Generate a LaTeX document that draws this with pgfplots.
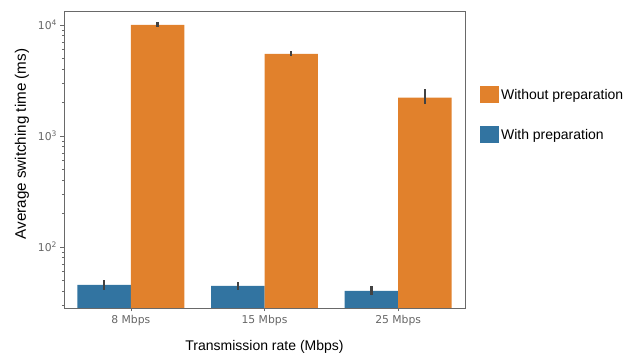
\documentclass[border=0pt]{standalone}
\usepackage{fontspec}
\setmainfont{Liberation Sans}
\newfontfamily\tickfont{DejaVu Sans}
\usepackage{pgfplots}
\pgfplotsset{compat=1.18}
\definecolor{sbblue}{RGB}{50,116,161}
\definecolor{sborange}{RGB}{225,129,44}
\definecolor{ebar}{RGB}{66,66,66}
\definecolor{spine}{RGB}{105,105,105}
\begin{document}
\begin{tikzpicture}
\path[use as bounding box] (0,0) rectangle (642pt,356pt);
\begin{axis}[
  at={(64pt,48pt)}, anchor=south west,
  width=401pt, height=297pt, scale only axis,
  ymode=log, ymin=28.2, ymax=13370,
  xmin=-0.5, xmax=2.5,
  xtick={0,1,2}, xticklabels={8 Mbps,15 Mbps,25 Mbps},
  ytick={100,1000,10000},
  minor ytick={30,40,50,60,70,80,90,200,300,400,500,600,700,800,900,2000,3000,4000,5000,6000,7000,8000,9000},
  yticklabels={10\textsuperscript{2},10\textsuperscript{3},10\textsuperscript{4}},
  tick align=outside, tick pos=left,
  major tick length=3.5pt, minor tick length=2pt,
  every tick/.style={spine, line width=0.6pt},
  axis line style={spine, line width=0.9pt},
  ticklabel style={font=\tickfont\fontsize{10.8}{12}\selectfont, text=black!60},
  xlabel={Transmission rate (Mbps)},
  ylabel={Average switching time (ms)},
  xlabel style={font=\fontsize{14}{16}\selectfont, at={(axis description cs:0.5,-0.131)}, anchor=center},
  ylabel style={font=\fontsize{15.2}{17}\selectfont, at={(axis description cs:-0.105,0.552)}, anchor=center},
  reverse legend,
  legend style={at={(axis description cs:1.037,0.747)}, anchor=north west,
    draw=none, fill=none, inner sep=0pt, row sep=23pt,
    font=\fontsize{14}{16}\selectfont,
    nodes={inner sep=2pt}},
  legend cell align=left,
  error bars/error bar style={line width=2.5pt, ebar},
  error bars/error mark=none,
]
\addplot[ybar, bar width=0.4, bar shift=0pt, fill=sbblue, draw=none,
  legend image code/.code={\fill[sbblue] (0pt,-8.5pt) rectangle (19pt,8.5pt);},
  error bars/.cd, y dir=both, y explicit]
coordinates {
  (-0.2,45.5) += (0,4.9) -= (0,4.5)
  (0.8,44.6)  += (0,4.0) -= (0,3.6)
  (1.8,40.2)  += (0,4.4) -= (0,3.5)
};
\addlegendentry{With preparation}
\addplot[ybar, bar width=0.4, bar shift=0pt, fill=sborange, draw=none,
  legend image code/.code={\fill[sborange] (0pt,-8.5pt) rectangle (19pt,8.5pt);},
  error bars/.cd, y dir=both, y explicit]
coordinates {
  (0.2,10000) += (0,640) -= (0,400)
  (1.2,5480)  += (0,350) -= (0,220)
  (2.2,2213)  += (0,420) -= (0,280)
};
\addlegendentry{Without preparation}
\end{axis}
\end{tikzpicture}
\end{document}
